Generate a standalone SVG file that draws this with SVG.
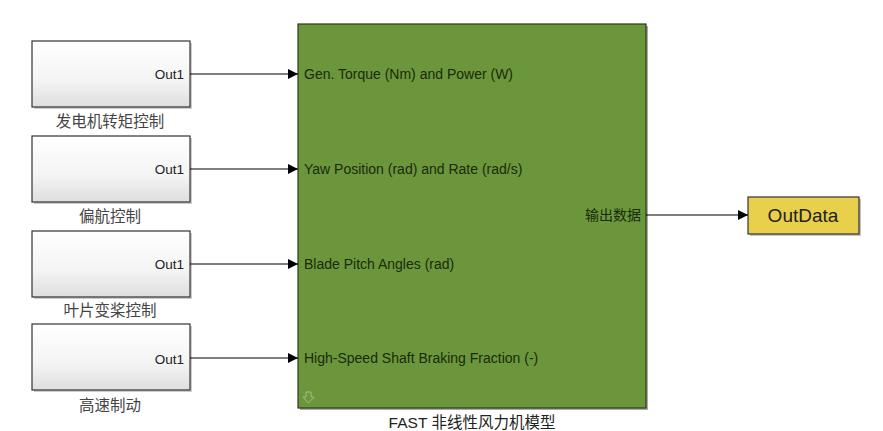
<svg xmlns="http://www.w3.org/2000/svg" width="883" height="431" viewBox="0 0 883 431">
<defs>
<linearGradient id="gb" x1="0" y1="0" x2="0" y2="1">
<stop offset="0" stop-color="#ffffff"/>
<stop offset="0.6" stop-color="#f4f4f4"/>
<stop offset="1" stop-color="#dedede"/>
</linearGradient>
<marker id="ar" viewBox="0 0 10 10" refX="10" refY="5" markerWidth="10" markerHeight="10" markerUnits="userSpaceOnUse" orient="auto">
<path d="M0,0 L10,5 L0,10 z" fill="#000"/>
</marker>
</defs>
<style>
.blk{fill:url(#gb);stroke:#333;stroke-width:1.2}
.shd{fill:#999;opacity:0.5}
.out{font-family:"Liberation Sans",Arial,sans-serif;font-size:13.5px;fill:#222;text-anchor:end}
.cap{font-family:"Liberation Sans","Noto Sans CJK SC",sans-serif;font-size:15.5px;fill:#444;text-anchor:middle}
.port{font-family:"Liberation Sans","Noto Sans CJK SC",sans-serif;font-size:14px;fill:#1a2a0a}
.ln{stroke:#000;stroke-width:1;fill:none}
</style>
<rect width="883" height="431" fill="#fff"/>
<g id="gen">
<rect class="shd" x="34" y="43" width="158" height="66"/>
<rect class="blk" x="32" y="41" width="158" height="66"/>
<text class="out" x="184" y="79">Out1</text>
<text class="cap" x="110" y="127">发电机转矩控制</text>
</g>
<g id="yaw">
<rect class="shd" x="34" y="138" width="158" height="66"/>
<rect class="blk" x="32" y="136" width="158" height="66"/>
<text class="out" x="184" y="174">Out1</text>
<text class="cap" x="110" y="222">偏航控制</text>
</g>
<g id="pitch">
<rect class="shd" x="34" y="233" width="158" height="66"/>
<rect class="blk" x="32" y="231" width="158" height="66"/>
<text class="out" x="184" y="269">Out1</text>
<text class="cap" x="110" y="316">叶片变桨控制</text>
</g>
<g id="brake">
<rect class="shd" x="34" y="326" width="158" height="66"/>
<rect class="blk" x="32" y="324" width="158" height="66"/>
<text class="out" x="184" y="364">Out1</text>
<text class="cap" x="110" y="411">高速制动</text>
</g>
<g id="fast">
<rect x="300" y="26" width="348" height="384" fill="#555" opacity="0.5"/>
<rect x="298" y="24" width="348" height="384" fill="#6b963c" stroke="#2a3a1a" stroke-width="1.2"/>
<text class="port" x="304" y="79">Gen. Torque (Nm) and Power (W)</text>
<text class="port" x="304" y="174">Yaw Position (rad) and Rate (rad/s)</text>
<text class="port" x="304" y="269">Blade Pitch Angles (rad)</text>
<text class="port" x="304" y="363">High-Speed Shaft Braking Fraction (-)</text>
<text class="port" x="641" y="220" text-anchor="end">输出数据</text>
<path d="M306,392 h5 v5 h3 l-5.5,6 l-5.5,-6 h3 z" fill="none" stroke="#9fc080" stroke-width="1"/>
<text class="cap" x="472" y="428" style="fill:#222">FAST 非线性风力机模型</text>
</g>
<g id="outdata">
<rect x="750" y="199" width="111" height="37" fill="#888" opacity="0.5"/>
<rect x="748" y="197" width="111" height="37" fill="#e8cf4c" stroke="#333" stroke-width="1.2"/>
<text x="803" y="222" font-family="Liberation Sans,Arial,sans-serif" font-size="19" fill="#222" text-anchor="middle">OutData</text>
</g>
<g id="connectors">
<line class="ln" x1="190" y1="74" x2="298" y2="74" marker-end="url(#ar)"/>
<line class="ln" x1="190" y1="169" x2="298" y2="169" marker-end="url(#ar)"/>
<line class="ln" x1="190" y1="264" x2="298" y2="264" marker-end="url(#ar)"/>
<line class="ln" x1="190" y1="358" x2="298" y2="358" marker-end="url(#ar)"/>
<line class="ln" x1="646" y1="215" x2="748" y2="215" marker-end="url(#ar)"/>
</g>
</svg>
